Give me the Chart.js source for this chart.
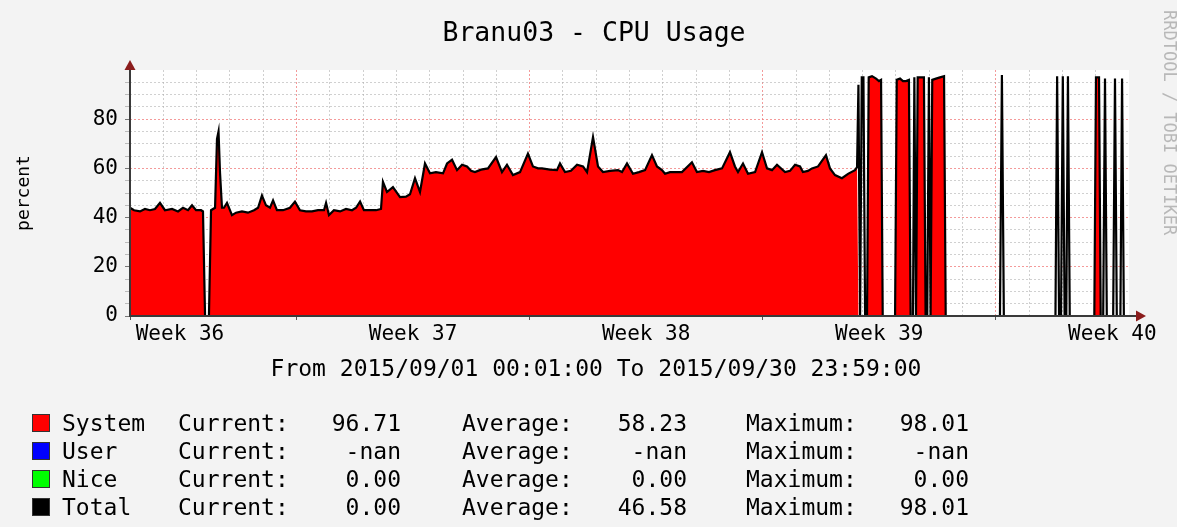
<!DOCTYPE html>
<html>
<head>
<meta charset="utf-8">
<script src="https://cdn.jsdelivr.net/npm/chart.js@4.4.1/dist/chart.umd.min.js"></script>
<style>
html,body{margin:0;padding:0;background:#f3f3f3;}
#wrap{position:relative;width:1177px;height:527px;overflow:hidden;font-family:"DejaVu Sans Mono",monospace;color:#000;}
#c{position:absolute;left:0;top:0;}
.t{position:absolute;white-space:pre;line-height:1;}
.box{position:absolute;width:18px;height:18px;box-sizing:border-box;border:1px solid #333;}
</style>
</head>
<body>
<div id="wrap">
<canvas id="c" width="1177" height="527"></canvas>
<div class="t" id="title" style="left:294px;width:600px;text-align:center;top:19px;font-size:26.5px;">Branu03 - CPU Usage</div>
<div class="t" id="range" style="left:196px;width:800px;text-align:center;top:357px;font-size:23px;">From 2015/09/01 00:01:00 To 2015/09/30 23:59:00</div>
<div class="t" id="credit" style="left:1161px;top:10px;font-size:17px;color:#b8b8b8;writing-mode:vertical-rl;">RRDTOOL / TOBI OETIKER</div>
<div id="legend"></div>
</div>
<script>
// ---- data (hours since 2015/09/01 00:01) ----
const hours = [
0, 2.9, 7.2, 10.8, 14.4, 18.0, 21.6, 25.2, 30.3, 34.6,
38.2, 41.8, 44.7, 47.6, 51.2, 52.6, 54.1, 56.9, 58.4, 61.3,
62.7, 63.8, 64.9, 66.3, 67.7, 69.9, 73.5, 76.4, 80.7, 85.0,
89.4, 92.3, 95.1, 98.0, 100.9, 103.1, 105.9, 110.3, 115.3, 118.9,
122.5, 126.8, 131.2, 135.5, 139.8, 141.3, 143.4, 147.0, 151.4, 155.7,
160.0, 162.9, 165.8, 168.6, 173.0, 177.3, 180.9, 182.3, 185.2, 189.5,
194.6, 198.9, 201.8, 205.4, 209.0, 212.6, 216.2, 220.5, 225.6, 228.5,
232.1, 235.7, 239.3, 242.9, 245.8, 248.6, 253.0, 258.0, 263.8, 268.1,
271.7, 276.0, 281.1, 286.8, 290.4, 294.1, 296.9, 302.7, 307.7, 309.9,
313.5, 317.8, 322.2, 326.5, 329.4, 333.7, 337.3, 340.9, 346.0, 351.7,
354.6, 358.2, 362.5, 366.8, 371.2, 376.2, 379.8, 383.4, 385.6, 389.2,
393.5, 397.8, 405.0, 408.6, 413.0, 417.3, 421.6, 426.7, 432.4, 436.0,
438.2, 441.8, 445.4, 450.5, 455.5, 459.1, 462.7, 466.3, 472.1, 475.7,
479.3, 482.9, 485.0, 488.6, 491.5, 495.9, 501.6, 504.5, 508.1, 513.1,
517.5, 522.5, 524.0,
525.0, 526.2, 527.4, 528.6, 529.8, 531.2, 532.4, 534.8, 537.7, 539.8,
541.3, 542.5, 551.4, 552.6, 555.0, 557.1, 559.3, 561.4, 562.6, 564.3,
565.3, 566.5, 567.7, 572.2, 573.4, 574.6, 575.8, 577.0, 578.2, 580.9,
583.8, 586.7, 587.9, 627.0, 628.4, 629.8, 667.0, 668.2, 669.6, 671.0,
672.3, 673.6, 674.8, 676.0, 677.3, 695.0, 696.2, 698.4, 699.6, 701.4,
702.7, 704.0, 708.6, 709.9, 711.2, 713.8, 715.0, 716.3, 720
];
const systemValues = [
44, 43, 42.5, 43.5, 43, 43.5, 46, 43, 43.5, 42.5,
44, 43, 45, 43, 43, 42.5, 0, 0, 43, 44,
72, 75, 58, 44, 44, 46, 41, 42, 42.5, 42,
43, 44, 49, 45, 44, 47, 43, 43, 44, 46.5,
43, 42.5, 42.5, 43, 43, 46, 41, 43, 42.5, 43.5,
43, 44, 46.5, 43, 43, 43, 43.5, 54.5, 50.4, 52.4,
48.3, 48.5, 49.5, 56, 50.4, 62, 58, 58.5, 58, 62,
63.5, 59.3, 61.5, 60.8, 59, 58.5, 59.5, 60, 64.6, 58.5,
61.5, 57.3, 58.5, 66, 60.8, 60, 60, 59.5, 59.3, 62,
58.5, 59, 61.5, 60.8, 58.5, 72.7, 60.8, 58.5, 59, 59.3,
58.5, 62, 57.8, 58.5, 59.3, 65.4, 60.8, 59.3, 57.8, 58.5,
58.5, 58.5, 62.5, 58.5, 59, 58.5, 59.3, 60, 66.6, 60.8,
58.5, 62, 57.8, 58.5, 66.6, 60, 59.3, 61.5, 58.5, 59,
61.5, 60.8, 58.5, 59, 60, 60.8, 65.4, 60, 57.3, 56,
57.8, 59.3, 60.5,
0, 0, 0, 0, 0, 0, 97, 97.5, 96.5, 95.5,
96, 0, 0, 96, 96.5, 95.5, 95.5, 96, 0, 0,
0, 0, 97, 97, 0, 0, 0, 0, 96, 96.5,
97, 97.5, 0, 0, 0, 0, 0, 0, 0, 0,
0, 0, 0, 0, 0, 0, 97, 97, 0, 0,
0, 0, 0, 0, 0, 0, 0, 0, 0
];
const totalValues = [
44, 43, 42.5, 43.5, 43, 43.5, 46, 43, 43.5, 42.5,
44, 43, 45, 43, 43, 42.5, 0, 0, 43, 44,
72, 75, 58, 44, 44, 46, 41, 42, 42.5, 42,
43, 44, 49, 45, 44, 47, 43, 43, 44, 46.5,
43, 42.5, 42.5, 43, 43, 46, 41, 43, 42.5, 43.5,
43, 44, 46.5, 43, 43, 43, 43.5, 54.5, 50.4, 52.4,
48.3, 48.5, 49.5, 56, 50.4, 62, 58, 58.5, 58, 62,
63.5, 59.3, 61.5, 60.8, 59, 58.5, 59.5, 60, 64.6, 58.5,
61.5, 57.3, 58.5, 66, 60.8, 60, 60, 59.5, 59.3, 62,
58.5, 59, 61.5, 60.8, 58.5, 72.7, 60.8, 58.5, 59, 59.3,
58.5, 62, 57.8, 58.5, 59.3, 65.4, 60.8, 59.3, 57.8, 58.5,
58.5, 58.5, 62.5, 58.5, 59, 58.5, 59.3, 60, 66.6, 60.8,
58.5, 62, 57.8, 58.5, 66.6, 60, 59.3, 61.5, 58.5, 59,
61.5, 60.8, 58.5, 59, 60, 60.8, 65.4, 60, 57.3, 56,
57.8, 59.3, 60.5,
94, 0, 97, 97, 0, 0, 97, 97.5, 96.5, 95.5,
96, 0, 0, 96, 96.5, 95.5, 95.5, 96, 0, 0,
97, 0, 97, 97, 0, 0, 97, 0, 96, 96.5,
97, 97.5, 0, 0, 98, 0, 0, 97.5, 0, 0,
97.5, 0, 0, 97.5, 0, 0, 97, 97, 0, 0,
96.5, 0, 0, 96.5, 0, 0, 96.5, 0, 0
];
const weekLabels = ['Week 36', 'Week 37', 'Week 38', 'Week 39', 'Week 40'];
const weekLabelHours = [36, 204, 372, 540, 708];
const weekStartHours = [120, 288, 456, 624];
const yTickLabels = [0, 20, 40, 60, 80];

const legendNames = ['System', 'User', 'Nice', 'Total'];
const legendColors = ['#ff0000', '#0000ff', '#00ff00', '#000000'];
const currentVals = ['96.71', '-nan', '0.00', '0.00'];
const averageVals = ['58.23', '-nan', '0.00', '46.58'];
const maximumVals = ['98.01', '-nan', '0.00', '98.01'];

// ---- legend (HTML text) ----
const leg = document.getElementById('legend');
function addText(txt, left, top, width, align) {
  const d = document.createElement('div');
  d.className = 't';
  d.textContent = txt;
  d.style.left = left + 'px';
  d.style.top = top + 'px';
  d.style.fontSize = '23px';
  if (width) { d.style.width = width + 'px'; d.style.textAlign = align; }
  leg.appendChild(d);
}
legendNames.forEach((name, i) => {
  const top = 412 + 28 * i;
  const b = document.createElement('div');
  b.className = 'box';
  b.style.left = '32px';
  b.style.top = (414 + 28 * i) + 'px';
  b.style.background = legendColors[i];
  leg.appendChild(b);
  addText(name, 62, top);
  addText('Current:', 178, top);
  addText(currentVals[i], 301, top, 100, 'right');
  addText('Average:', 462, top);
  addText(averageVals[i], 587, top, 100, 'right');
  addText('Maximum:', 746, top);
  addText(maximumVals[i], 869, top, 100, 'right');
});

// ---- chart ----
const systemData = hours.map((h, i) => ({x: h, y: systemValues[i]}));
const totalData = hours.map((h, i) => ({x: h, y: totalValues[i]}));

const plotDecor = {
  id: 'plotDecor',
  beforeDraw(chart) {
    const {ctx, chartArea: a} = chart;
    ctx.save();
    ctx.fillStyle = '#ffffff';
    ctx.fillRect(a.left, a.top, a.right - a.left, a.bottom - a.top);
    ctx.restore();
  },
  afterDraw(chart) {
    const {ctx, chartArea: a} = chart;
    ctx.save();
    ctx.strokeStyle = '#3a3a3a';
    ctx.lineWidth = 2;
    ctx.beginPath();
    ctx.moveTo(a.left, a.bottom + 1);
    ctx.lineTo(a.left, a.top - 2);
    ctx.moveTo(a.left - 1, a.bottom);
    ctx.lineTo(a.right + 8, a.bottom);
    ctx.stroke();
    ctx.fillStyle = '#8b1c1c';
    ctx.beginPath();
    ctx.moveTo(a.left, a.top - 10);
    ctx.lineTo(a.left - 5.5, a.top);
    ctx.lineTo(a.left + 5.5, a.top);
    ctx.closePath();
    ctx.fill();
    ctx.beginPath();
    ctx.moveTo(a.right + 17, a.bottom);
    ctx.lineTo(a.right + 7, a.bottom - 5.5);
    ctx.lineTo(a.right + 7, a.bottom + 5.5);
    ctx.closePath();
    ctx.fill();
    ctx.restore();
  }
};

new Chart(document.getElementById('c'), {
  type: 'line',
  data: {
    datasets: [
      {
        label: 'Total',
        data: totalData,
        borderColor: '#000000',
        borderWidth: 2.2,
        fill: false,
        pointRadius: 0,
        tension: 0,
        order: 0,
        clip: 4
      },
      {
        label: 'System',
        data: systemData,
        borderColor: '#ff0000',
        borderWidth: 0,
        backgroundColor: '#ff0000',
        fill: 'origin',
        pointRadius: 0,
        tension: 0,
        order: 1
      }
    ]
  },
  options: {
    responsive: false,
    animation: false,
    events: [],
    layout: {padding: {left: 10, right: 48, top: 70, bottom: 171}},
    plugins: {legend: {display: false}, tooltip: {enabled: false}, title: {display: false}},
    scales: {
      x: {
        type: 'linear',
        min: 0,
        max: 720,
        afterFit(scale) { scale.height = 40; },
        afterBuildTicks(scale) {
          const vals = [];
          for (let h = 0; h <= 720; h += 24) vals.push(h);
          weekLabelHours.forEach(h => vals.push(h));
          vals.sort((a, b) => a - b);
          scale.ticks = vals.map(v => ({value: v}));
        },
        ticks: {
          autoSkip: false,
          maxRotation: 0,
          minRotation: 0,
          padding: 2,
          color: '#000',
          font: {family: 'DejaVu Sans Mono', size: 21},
          callback(value) {
            const i = weekLabelHours.indexOf(value);
            return i >= 0 ? weekLabels[i] : '';
          }
        },
        grid: {
          lineWidth: 1,
          tickLength: 4,
          color(ctx) {
            const v = ctx.tick ? ctx.tick.value : null;
            if (weekLabelHours.includes(v)) return 'rgba(0,0,0,0)';
            if (weekStartHours.includes(v)) return 'rgba(240,120,120,0.75)';
            if (v === 0 || v === 720) return 'rgba(0,0,0,0)';
            return 'rgba(170,170,170,0.55)';
          },
          tickColor(ctx) {
            const v = ctx.tick ? ctx.tick.value : null;
            if (weekStartHours.includes(v) || v === 0) return '#555';
            return 'rgba(0,0,0,0)';
          }
        },
        border: {display: false, dash: [2, 2]}
      },
      y: {
        min: 0,
        max: 100,
        afterFit(scale) { scale.width = 120; },
        ticks: {
          stepSize: 5,
          autoSkip: false,
          padding: 7,
          color: '#000',
          font: {family: 'DejaVu Sans Mono', size: 21},
          callback(value) { return yTickLabels.includes(value) ? String(value) : ''; }
        },
        title: {
          display: true,
          text: 'percent',
          color: '#000',
          font: {family: 'DejaVu Sans Mono', size: 18},
          padding: {top: 4, bottom: 0}
        },
        grid: {
          lineWidth: 1,
          tickLength: 5,
          color(ctx) {
            const v = ctx.tick ? ctx.tick.value : null;
            if (v === 0 || v === 100) return 'rgba(0,0,0,0)';
            if (v % 20 === 0) return 'rgba(240,120,120,0.75)';
            return 'rgba(170,170,170,0.55)';
          },
          tickColor(ctx) {
            const v = ctx.tick ? ctx.tick.value : null;
            if (v === 100) return 'rgba(0,0,0,0)';
            return v % 20 === 0 ? '#777' : '#bbb';
          }
        },
        border: {display: false, dash: [2, 2]}
      }
    }
  },
  plugins: [plotDecor]
});
</script>
</body>
</html>
